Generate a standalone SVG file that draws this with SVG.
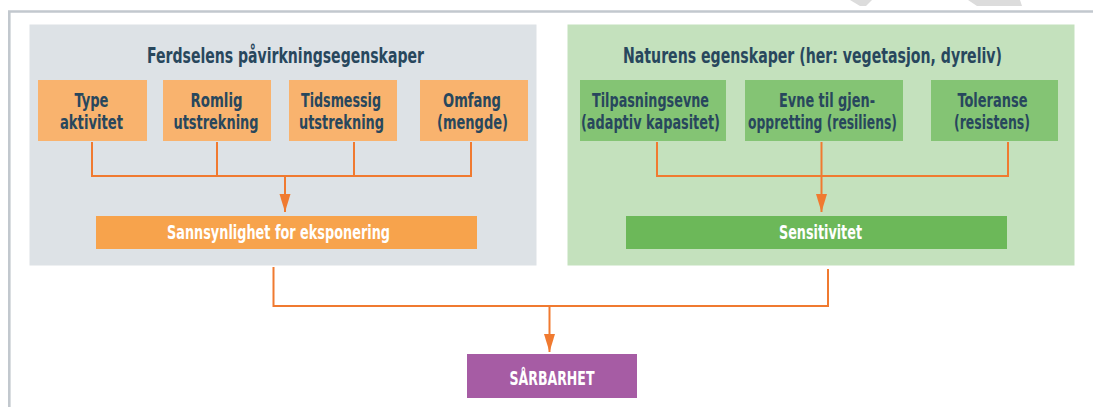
<svg xmlns="http://www.w3.org/2000/svg" width="1093" height="407" viewBox="0 0 1093 407">
<style>
text{font-family:"Liberation Sans Narrow","DejaVu Sans Condensed","Liberation Sans",Arial,sans-serif;font-weight:bold;text-anchor:middle}
.t{font-size:21px;fill:#28475d}
.b{font-size:19px;fill:#28475d}
.w{font-size:20px;fill:#ffffff}
.c{fill:none;stroke:#f07a30;stroke-width:2}
.o{fill:#f9b36e}
.g{fill:#84c474}
</style>
<defs>
<marker id="ah" markerUnits="userSpaceOnUse" markerWidth="18" markerHeight="12" refX="18" refY="6" orient="auto">
<path d="M0,0.5 L18,6 L0,11.5 z" fill="#f07a30"/>
</marker>
</defs>
<rect x="0" y="0" width="1093" height="407" fill="#ffffff"/>
<g id="decor">
<polygon points="850,0 872,0 866,6 860,6" fill="#dcdcdc"/>
<polygon points="968,0 1020,0 1022,6 977,6" fill="#dcdcdc"/>
<path d="M9.3,407 V11.5 H1093" fill="none" stroke="#c2c8ce" stroke-width="2.6"/>
</g>
<g id="panel-ferdsel">
<rect x="29.5" y="24.5" width="507" height="241" fill="#dde2e6"/>
<text class="t" x="285.5" y="63" textLength="277" lengthAdjust="spacingAndGlyphs">Ferdselens påvirkningsegenskaper</text>
</g>
<g id="panel-natur">
<rect x="567.5" y="24.5" width="507" height="241" fill="#c4e1bd"/>
<text class="t" x="812.5" y="63" textLength="379" lengthAdjust="spacingAndGlyphs">Naturens egenskaper (her: vegetasjon, dyreliv)</text>
</g>
<g id="type-aktivitet">
<rect class="o" x="38" y="80" width="109" height="61"/>
<text class="b" x="91.5" y="107" textLength="34" lengthAdjust="spacingAndGlyphs">Type</text>
<text class="b" x="91.5" y="129" textLength="63" lengthAdjust="spacingAndGlyphs">aktivitet</text>
</g>
<g id="romlig-utstrekning">
<rect class="o" x="163" y="80" width="108" height="61"/>
<text class="b" x="216.5" y="107" textLength="52" lengthAdjust="spacingAndGlyphs">Romlig</text>
<text class="b" x="216" y="129" textLength="85" lengthAdjust="spacingAndGlyphs">utstrekning</text>
</g>
<g id="tidsmessig-utstrekning">
<rect class="o" x="289" y="80" width="108" height="61"/>
<text class="b" x="341" y="107" textLength="80" lengthAdjust="spacingAndGlyphs">Tidsmessig</text>
<text class="b" x="341.5" y="129" textLength="85" lengthAdjust="spacingAndGlyphs">utstrekning</text>
</g>
<g id="omfang">
<rect class="o" x="420" y="80" width="108" height="61"/>
<text class="b" x="472" y="107" textLength="58" lengthAdjust="spacingAndGlyphs">Omfang</text>
<text class="b" x="472.5" y="129" textLength="71" lengthAdjust="spacingAndGlyphs">(mengde)</text>
</g>
<g id="tilpasningsevne">
<rect class="g" x="580" y="80" width="146" height="61"/>
<text class="b" x="650.5" y="107" textLength="117" lengthAdjust="spacingAndGlyphs">Tilpasningsevne</text>
<text class="b" x="650.5" y="129" textLength="139" lengthAdjust="spacingAndGlyphs">(adaptiv kapasitet)</text>
</g>
<g id="gjenoppretting">
<rect class="g" x="745" y="80" width="158" height="61"/>
<text class="b" x="827" y="107" textLength="96" lengthAdjust="spacingAndGlyphs">Evne til gjen-</text>
<text class="b" x="822.5" y="129" textLength="149" lengthAdjust="spacingAndGlyphs">oppretting (resiliens)</text>
</g>
<g id="toleranse">
<rect class="g" x="931" y="80" width="127" height="61"/>
<text class="b" x="992.5" y="107" textLength="70" lengthAdjust="spacingAndGlyphs">Toleranse</text>
<text class="b" x="992" y="129" textLength="76" lengthAdjust="spacingAndGlyphs">(resistens)</text>
</g>
<g id="sannsynlighet">
<rect x="96" y="216" width="381" height="33" fill="#f7a34c"/>
<text class="w" x="278.5" y="239" textLength="223" lengthAdjust="spacingAndGlyphs">Sannsynlighet for eksponering</text>
</g>
<g id="sensitivitet">
<rect x="626" y="216" width="381" height="33" fill="#6cb859"/>
<text class="w" x="820.5" y="239" textLength="83" lengthAdjust="spacingAndGlyphs">Sensitivitet</text>
</g>
<g id="sarbarhet">
<rect x="467" y="354" width="170" height="44" fill="#a65ca4"/>
<text class="w" x="552" y="385" textLength="85" lengthAdjust="spacingAndGlyphs">SÅRBARHET</text>
</g>
<g id="connectors">
<path class="c" d="M92,142 V176 H471 V142 M217,142 V176 M354,142 V176"/>
<path class="c" d="M285,176 V212" marker-end="url(#ah)"/>
<path class="c" d="M657,142 V176 H1008 V142"/>
<path class="c" d="M821.5,142 V212" marker-end="url(#ah)"/>
<path class="c" d="M273.5,267 V306 H828 V269"/>
<path class="c" d="M549.5,306 V352" marker-end="url(#ah)"/>
</g>
</svg>
